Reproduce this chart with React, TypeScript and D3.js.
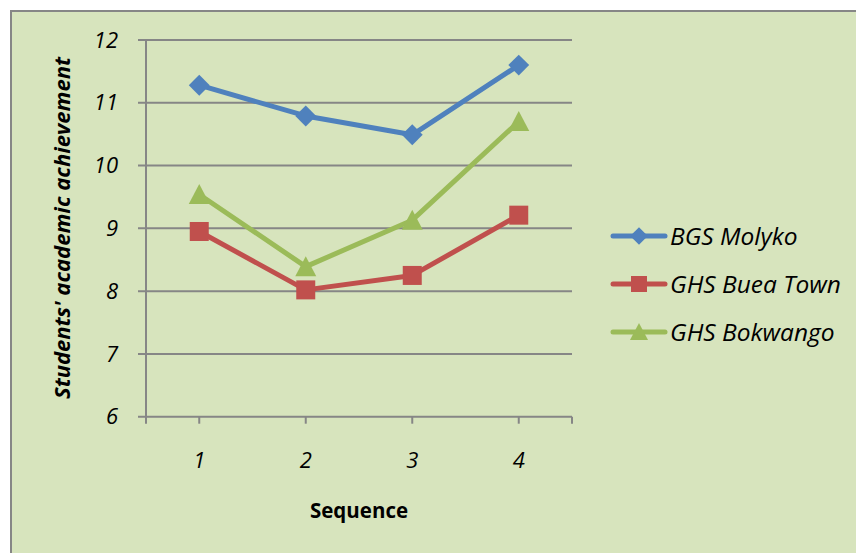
import React from "react";
import * as d3 from "d3";

const categories = ["1", "2", "3", "4"];
const yTicks = [6, 7, 8, 9, 10, 11, 12];
const seriesNames = ["BGS Molyko", "GHS Buea Town", "GHS Bokwango"];
const bgsMolyko = [11.28, 10.79, 10.49, 11.6];
const ghsBueaTown = [8.95, 8.02, 8.25, 9.21];
const ghsBokwango = [9.54, 8.39, 9.13, 10.7];
const colors = ["#4F81BD", "#C0504D", "#9BBB59"];
const markers = ["diamond", "square", "triangle"];

const W = 856;
const H = 553;
const FONT = "'Open Sans', Lato, sans-serif";

function Marker({ type, x, y, color, s }: { type: string; x: number; y: number; color: string; s: number }) {
  if (type === "diamond") {
    const r = s * 0.55;
    return <path d={`M${x},${y - r}L${x + r},${y}L${x},${y + r}L${x - r},${y}Z`} fill={color} />;
  }
  if (type === "square") {
    const h = s / 2;
    return <rect x={x - h} y={y - h} width={s} height={s} fill={color} />;
  }
  const h = s / 2;
  return <path d={`M${x},${y - h - 1}L${x + h + 1},${y + h}L${x - h - 1},${y + h}Z`} fill={color} />;
}

export default function App() {
  const series = [bgsMolyko, ghsBueaTown, ghsBokwango];
  const left = 146, right = 572, top = 40, bottom = 416.7;
  const x = d3.scaleBand().domain(categories).range([left, right]);
  const y = d3.scaleLinear().domain([6, 12]).range([bottom, top]);
  const cx = (c: string) => (x(c) as number) + x.bandwidth() / 2;
  const line = d3
    .line<number>()
    .x((_, i) => cx(categories[i]))
    .y((d) => y(d));
  const grid = "#868686";
  const legendY = [236, 284, 332];

  return (
    <svg width={W} height={H} style={{ position: "absolute", left: 0, top: 0 }} fontFamily={FONT}>
      <rect x={0} y={0} width={W} height={H} fill="#ffffff" />
      <rect x={11} y={11} width={W + 20} height={H + 20} fill="#D7E4BD" stroke={grid} strokeWidth={2} />
      {yTicks.map((t) => (
        <g key={t}>
          <line x1={left - 8} x2={right} y1={y(t)} y2={y(t)} stroke={grid} strokeWidth={2} />
          <text x={118} y={y(t)} dy="0.35em" textAnchor="end" fontSize={22} fontStyle="italic" fill="#000">
            {t}
          </text>
        </g>
      ))}
      <line x1={left} x2={left} y1={top} y2={bottom} stroke={grid} strokeWidth={2} />
      {[...categories.map((c) => cx(c)), left, right].map((tx, i) => (
        <line key={i} x1={tx} x2={tx} y1={bottom} y2={bottom + 7} stroke={grid} strokeWidth={2} />
      ))}
      {categories.map((c) => (
        <text key={c} x={cx(c)} y={460} dy="0.35em" textAnchor="middle" fontSize={22} fontStyle="italic">
          {c}
        </text>
      ))}
      <text x={359} y={511} dy="0.35em" textAnchor="middle" fontSize={20.5} fontWeight="bold">
        Sequence
      </text>
      <text
        transform={`translate(62,228) rotate(-90)`}
        dy="0.35em"
        textAnchor="middle"
        fontSize={22}
        fontWeight="bold"
        fontStyle="italic"
      >
        Students' academic achievement
      </text>
      {series.map((s, si) => (
        <g key={si}>
          <path d={line(s) || ""} fill="none" stroke={colors[si]} strokeWidth={5} strokeLinejoin="round" />
          {s.map((v, i) => (
            <Marker key={i} type={markers[si]} x={cx(categories[i])} y={y(v)} color={colors[si]} s={19} />
          ))}
        </g>
      ))}
      {seriesNames.map((n, i) => (
        <g key={n}>
          <line x1={613} x2={665} y1={legendY[i]} y2={legendY[i]} stroke={colors[i]} strokeWidth={5} strokeLinecap="round" />
          <Marker type={markers[i]} x={639} y={legendY[i]} color={colors[i]} s={16} />
          <text x={670} y={legendY[i]} dy="0.35em" fontSize={24.5} fontStyle="italic">
            {n}
          </text>
        </g>
      ))}
    </svg>
  );
}
